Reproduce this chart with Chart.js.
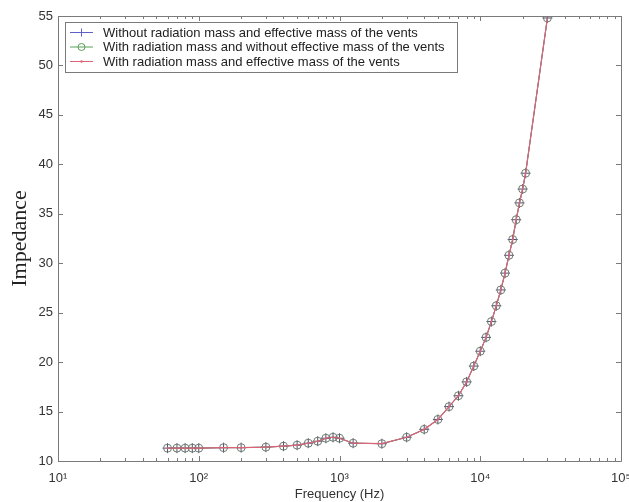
<!DOCTYPE html>
<html>
<head>
<meta charset="utf-8">
<script src="https://cdn.jsdelivr.net/npm/chart.js@4.4.1/dist/chart.umd.min.js"></script>
<style>
  html, body { margin: 0; padding: 0; background: #fff; }
  #chart { display: block; }
</style>
</head>
<body>
<canvas id="chart" width="629" height="502"></canvas>
<script>
// Fréquences (Hz) et impédances
const freqHz = [60, 70, 80, 90, 100, 150, 200, 300, 400, 500, 600, 700, 800, 900, 1000, 1250,
    2000, 3000, 4000, 5000, 6000, 7000, 8000, 9000, 10000, 11000, 12000, 13000, 14000,
    15000, 16000, 17000, 18000, 19000, 20000, 21000, 30000];

const impNoMass = [11.3, 11.3, 11.3, 11.3, 11.3, 11.35, 11.35, 11.4, 11.5, 11.6, 11.8, 12.0, 12.3, 12.4, 12.3, 11.8,
    11.75, 12.4, 13.2, 14.2, 15.5, 16.6, 18.0, 19.6, 21.1, 22.5, 24.1, 25.7, 27.3,
    29.0, 30.8, 32.4, 34.4, 36.1, 37.5, 39.1, 54.8];

const impRadiation = [11.3, 11.3, 11.3, 11.3, 11.3, 11.35, 11.35, 11.4, 11.5, 11.6, 11.8, 12.0, 12.3, 12.4, 12.3, 11.8,
    11.75, 12.4, 13.2, 14.2, 15.5, 16.6, 18.0, 19.6, 21.1, 22.5, 24.1, 25.7, 27.3,
    29.0, 30.8, 32.4, 34.4, 36.1, 37.5, 39.1, 54.8];

const impRadiationVents = [11.3, 11.3, 11.3, 11.3, 11.3, 11.35, 11.35, 11.4, 11.5, 11.6, 11.8, 12.0, 12.3, 12.4, 12.3, 11.8,
    11.75, 12.4, 13.2, 14.2, 15.5, 16.6, 18.0, 19.6, 21.1, 22.5, 24.1, 25.7, 27.3,
    29.0, 30.8, 32.4, 34.4, 36.1, 37.5, 39.1, 54.8];

const seriesLabels = [
    'Without radiation mass and effective mass of the vents',
    'With radiation mass and without effective mass of the vents',
    'With radiation mass and effective mass of the vents'
];

// Graduations
const xDecades = [10, 100, 1000, 10000, 100000];
const xDecadeLabels = ['10¹', '10²', '10³', '10⁴', '10⁵'];
const yTicks = [10, 15, 20, 25, 30, 35, 40, 45, 50, 55];

const AXIS_COLOR = '#7a7a7a';
const TEXT_COLOR = '#333';
const SANS = '"Liberation Sans", Arial, sans-serif';

function toPoints(values) {
    return freqHz.map((f, i) => ({ x: f, y: values[i] }));
}

/**
 * Cadre façon Matlab : boîte complète + graduations vers l'intérieur + légende.
 */
const boxPlugin = {
    id: 'matlabBox',
    afterDraw(chart) {
        const ctx = chart.ctx;
        const a = chart.chartArea;
        const xs = chart.scales.x;
        const ys = chart.scales.y;
        ctx.save();
        ctx.strokeStyle = AXIS_COLOR;
        ctx.lineWidth = 1;
        ctx.beginPath();
        ctx.rect(Math.round(a.left) + 0.5, Math.round(a.top) + 0.5,
            Math.round(a.right - a.left), Math.round(a.bottom - a.top));

        // graduations Y (gauche et droite)
        yTicks.forEach(v => {
            const y = Math.round(ys.getPixelForValue(v)) + 0.5;
            ctx.moveTo(a.left, y); ctx.lineTo(a.left + 5, y);
            ctx.moveTo(a.right, y); ctx.lineTo(a.right - 5, y);
        });

        // graduations X log (majeures + mineures, bas et haut)
        xDecades.forEach((d, i) => {
            const maxK = i === xDecades.length - 1 ? 1 : 9;
            for (let k = 1; k <= maxK; k++) {
                const x = Math.round(xs.getPixelForValue(d * k)) + 0.5;
                const len = k === 1 ? 5 : 3;
                ctx.moveTo(x, a.bottom); ctx.lineTo(x, a.bottom - len);
                ctx.moveTo(x, a.top); ctx.lineTo(x, a.top + len);
            }
        });
        ctx.stroke();

        // Légende dans le coin haut gauche
        const lx = 65, ly = 22, lw = 392, lh = 50;
        ctx.fillStyle = '#fff';
        ctx.fillRect(lx, ly, lw, lh);
        ctx.strokeStyle = AXIS_COLOR;
        ctx.strokeRect(lx + 0.5, ly + 0.5, lw, lh);

        ctx.font = '13px ' + SANS;
        ctx.textBaseline = 'middle';
        chart.data.datasets.forEach((ds, i) => {
            const y = ly + 10.5 + i * 14.5;
            ctx.strokeStyle = ds.borderColor;
            ctx.lineWidth = 1;
            ctx.beginPath();
            ctx.moveTo(70, y); ctx.lineTo(93, y);
            ctx.stroke();
            const mx = 81.5;
            if (ds.pointStyle === 'cross') {
                ctx.beginPath();
                ctx.moveTo(mx - 4, y); ctx.lineTo(mx + 4, y);
                ctx.moveTo(mx, y - 4); ctx.lineTo(mx, y + 4);
                ctx.stroke();
            } else if (ds.pointRadius > 2) {
                ctx.beginPath();
                ctx.arc(mx, y, 3.5, 0, Math.PI * 2);
                ctx.stroke();
            } else {
                ctx.fillStyle = ds.borderColor;
                ctx.beginPath();
                ctx.arc(mx, y, 1.2, 0, Math.PI * 2);
                ctx.fill();
            }
            ctx.fillStyle = '#222';
            ctx.fillText(ds.label, 103, y + 0.5);
        });
        ctx.restore();
    }
};

const ctx = document.getElementById('chart').getContext('2d');

new Chart(ctx, {
    type: 'line',
    data: {
        datasets: [
            {
                label: seriesLabels[0],
                data: toPoints(impNoMass),
                borderColor: 'rgb(95,95,200)',
                backgroundColor: 'rgba(0,0,0,0)',
                borderWidth: 1,
                pointStyle: 'cross',
                pointRadius: 5,
                pointBorderWidth: 1,
                pointBorderColor: 'rgb(80,80,120)',
                tension: 0,
                order: 2
            },
            {
                label: seriesLabels[1],
                data: toPoints(impRadiation),
                borderColor: 'rgb(90,160,90)',
                backgroundColor: 'rgba(0,0,0,0)',
                borderWidth: 1,
                pointStyle: 'circle',
                pointRadius: 4,
                pointBorderWidth: 1,
                pointBorderColor: 'rgb(110,125,110)',
                tension: 0,
                order: 1
            },
            {
                label: seriesLabels[2],
                data: toPoints(impRadiationVents),
                borderColor: 'rgb(220,100,120)',
                backgroundColor: 'rgb(220,100,120)',
                borderWidth: 1.2,
                pointStyle: 'circle',
                pointRadius: 1,
                pointBorderWidth: 0,
                tension: 0,
                order: 0
            }
        ]
    },
    options: {
        responsive: false,
        animation: false,
        devicePixelRatio: 1,
        layout: { padding: { top: 16, right: 8, left: 0, bottom: 0 } },
        plugins: {
            legend: { display: false },
            tooltip: { enabled: false }
        },
        scales: {
            x: {
                type: 'logarithmic',
                min: 10,
                max: 100000,
                grid: { display: false, drawTicks: false },
                border: { display: false },
                afterBuildTicks: scale => {
                    scale.ticks = xDecades.map(v => ({ value: v, major: true }));
                },
                afterFit: scale => {
                    scale.height = 41;
                    scale.paddingLeft = 0;
                    scale.paddingRight = 0;
                },
                ticks: {
                    autoSkip: false,
                    maxRotation: 0,
                    padding: 10,
                    color: TEXT_COLOR,
                    font: { family: SANS, size: 13 },
                    callback: value => {
                        const i = xDecades.indexOf(value);
                        return i >= 0 ? xDecadeLabels[i] : '';
                    }
                },
                title: {
                    display: true,
                    text: 'Frequency (Hz)',
                    color: TEXT_COLOR,
                    font: { family: SANS, size: 13 },
                    padding: { top: 0, bottom: 0 }
                }
            },
            y: {
                min: 10,
                max: 55,
                grid: { display: false, drawTicks: false },
                border: { display: false },
                afterBuildTicks: scale => {
                    scale.ticks = yTicks.map(v => ({ value: v }));
                },
                afterFit: scale => { scale.width = 58; },
                ticks: {
                    padding: 5,
                    color: TEXT_COLOR,
                    font: { family: SANS, size: 13 }
                },
                title: {
                    display: true,
                    text: 'Impedance',
                    color: '#222',
                    font: { family: '"Liberation Serif", "Times New Roman", serif', size: 22 },
                    padding: { top: 7, bottom: 0 }
                }
            }
        }
    },
    plugins: [boxPlugin]
});
</script>
</body>
</html>
